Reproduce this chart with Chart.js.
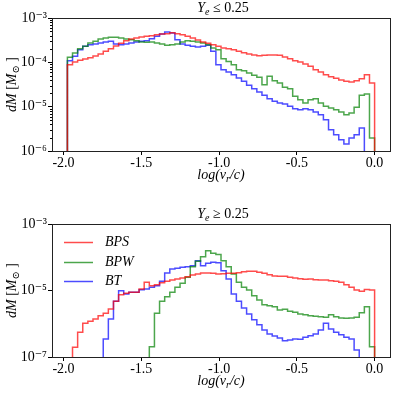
<!DOCTYPE html>
<html><head><meta charset="utf-8">
<script src="https://cdn.jsdelivr.net/npm/chart.js@4"></script>
<style>
html,body{margin:0;padding:0;background:#fff;}
#wrap{position:relative;width:396px;height:394px;background:#fff;}
canvas{position:absolute;left:0;}
#c1{top:0;} #c2{top:197px;}
</style></head><body>
<div id="wrap"><canvas id="c1" width="396" height="197"></canvas><canvas id="c2" width="396" height="197"></canvas></div>
<script>
// ---- data ----
const binStart = -1.975;
const binCount = 60;
const binWidth = 1.975 / binCount;
const xTicks = [-2.0, -1.5, -1.0, -0.5, 0.0];
const yTicksTop = [1e-6, 1e-5, 1e-4, 1e-3];
const yTicksBottom = [1e-7, 1e-5, 1e-3];
const seriesNames = ['BPS', 'BPW', 'BT'];
const seriesColors = ['rgba(255,0,0,0.7)', 'rgba(0,128,0,0.7)', 'rgba(0,0,255,0.7)'];
const titleTop = ['Y', 'e', ' \u2264 0.25'];
const titleBottom = ['Y', 'e', ' \u2265 0.25'];

const topBPS = [8.85e-5,1.02e-4,1.11e-4,1.19e-4,1.27e-4,1.39e-4,1.54e-4,1.77e-4,2.03e-4,2.33e-4,
  2.68e-4,3.08e-4,3.36e-4,3.54e-4,3.73e-4,3.86e-4,4.00e-4,4.21e-4,4.36e-4,4.43e-4,
  4.67e-4,4.43e-4,4.21e-4,3.86e-4,3.54e-4,3.19e-4,2.88e-4,2.68e-4,2.50e-4,2.30e-4,
  2.11e-4,2.03e-4,1.93e-4,1.77e-4,1.65e-4,1.54e-4,1.46e-4,1.41e-4,1.44e-4,1.46e-4,
  1.46e-4,1.44e-4,1.32e-4,1.21e-4,1.09e-4,1.02e-4,9.17e-5,8.13e-5,6.84e-5,6.05e-5,
  5.27e-5,4.75e-5,4.36e-5,4.00e-5,3.73e-5,3.60e-5,3.86e-5,4.28e-5,5.27e-5,3.42e-5];
const topBPW = [1.30e-4,1.63e-4,2.03e-4,2.30e-4,2.73e-4,2.98e-4,3.36e-4,3.54e-4,3.66e-4,3.66e-4,
  3.54e-4,3.36e-4,3.25e-4,3.08e-4,2.88e-4,2.83e-4,2.88e-4,2.73e-4,2.59e-4,2.42e-4,
  2.50e-4,2.59e-4,2.88e-4,3.08e-4,2.98e-4,2.88e-4,2.73e-4,2.50e-4,2.11e-4,1.93e-4,
  1.21e-4,1.05e-4,8.86e-5,6.84e-5,6.49e-5,5.74e-5,5.09e-5,4.59e-5,3.13e-5,4.83e-5,
  3.86e-5,3.42e-5,2.73e-5,2.55e-5,1.71e-5,1.44e-5,1.21e-5,1.44e-5,1.51e-5,1.21e-5,
  1.02e-5,9.33e-6,8.55e-6,7.59e-6,6.61e-6,7.20e-6,9.66e-6,1.80e-5,1.93e-5,1.96e-6];
const topBT = [1.09e-4,1.37e-4,1.93e-4,2.30e-4,2.50e-4,2.59e-4,2.73e-4,2.88e-4,2.98e-4,2.59e-4,
  2.50e-4,2.59e-4,2.73e-4,2.88e-4,2.98e-4,3.08e-4,3.42e-4,3.86e-4,4.36e-4,4.83e-4,
  4.59e-4,3.25e-4,2.59e-4,2.42e-4,2.30e-4,2.22e-4,2.30e-4,2.42e-4,1.77e-4,8.86e-5,
  6.84e-5,6.05e-5,5.27e-5,4.43e-5,3.73e-5,3.03e-5,2.55e-5,2.14e-5,1.80e-5,1.51e-5,
  1.32e-5,1.21e-5,1.15e-5,1.02e-5,9.01e-6,8.55e-6,9.01e-6,8.55e-6,7.59e-6,6.61e-6,
  5.09e-6,3.03e-6,2.34e-6,1.80e-6,1.44e-6,1.96e-6,2.34e-6,3.30e-6,0,0];

const botBPS = [0,1.95e-7,5.52e-7,1.03e-6,1.18e-6,1.39e-6,1.75e-6,2.06e-6,2.78e-6,4.72e-6,
  7.50e-6,8.22e-6,8.81e-6,8.81e-6,1.11e-5,1.76e-5,1.40e-5,1.50e-5,1.72e-5,1.89e-5,
  2.07e-5,2.22e-5,2.38e-5,2.61e-5,2.92e-5,3.13e-5,3.36e-5,3.36e-5,3.28e-5,3.13e-5,
  3.21e-5,3.28e-5,3.28e-5,3.44e-5,3.68e-5,3.77e-5,3.77e-5,3.52e-5,3.28e-5,2.99e-5,
  2.73e-5,2.67e-5,2.67e-5,2.49e-5,2.38e-5,2.27e-5,2.17e-5,2.22e-5,2.12e-5,2.07e-5,
  2.07e-5,1.98e-5,1.89e-5,1.76e-5,1.50e-5,1.25e-5,1.04e-5,9.44e-6,1.08e-5,1.04e-5];
const botBPW = [0,0,0,0,0,0,0,0,0,0,
  0,0,0,0,0,0,2.05e-7,2.06e-6,4.72e-6,6.53e-6,
  8.81e-6,1.25e-5,1.64e-5,2.49e-5,5.21e-5,7.54e-5,1.04e-4,1.58e-4,1.31e-4,1.20e-4,
  7.89e-5,5.21e-5,3.13e-5,1.76e-5,1.25e-5,1.04e-5,7.00e-6,5.18e-6,3.75e-6,3.50e-6,
  3.27e-6,2.59e-6,2.72e-6,2.36e-6,2.20e-6,1.96e-6,1.88e-6,1.75e-6,1.67e-6,1.63e-6,
  1.56e-6,1.88e-6,1.63e-6,1.49e-6,1.46e-6,1.49e-6,1.56e-6,2.15e-6,3.27e-6,2.05e-7];
const botBT = [0,0,0,0,0,0,0,3.48e-7,1.39e-6,4.72e-6,
  9.89e-6,7.85e-6,8.81e-6,8.81e-6,1.06e-5,1.11e-5,1.25e-5,1.40e-5,1.89e-5,3.36e-5,
  4.43e-5,4.65e-5,4.98e-5,5.21e-5,5.58e-5,7.89e-5,5.58e-5,6.56e-5,7.03e-5,6.87e-5,
  3.95e-5,2.22e-5,7.85e-6,4.72e-6,2.98e-6,1.96e-6,1.33e-6,9.38e-7,6.49e-7,4.92e-7,
  4.28e-7,3.73e-7,3.10e-7,3.24e-7,3.48e-7,3.40e-7,3.90e-7,4.38e-7,4.92e-7,6.49e-7,
  1.03e-6,6.95e-7,5.52e-7,4.70e-7,3.90e-7,3.48e-7,1.62e-7,0,0,0];

// ---- helpers ----
const FLOOR = 1e-12;
const SERIF = '"Liberation Serif", "DejaVu Serif", serif';
const SUP = {'-':'\u207B','0':'\u2070','1':'\u00B9','2':'\u00B2','3':'\u00B3','4':'\u2074','5':'\u2075','6':'\u2076','7':'\u2077','8':'\u2078','9':'\u2079'};

function toSteps(vals){
  const pts = [{x: binStart, y: FLOOR}];
  vals.forEach((v, i) => pts.push({x: binStart + i * binWidth, y: v > 0 ? v : FLOOR}));
  pts.push({x: binStart + vals.length * binWidth, y: FLOOR});
  return pts;
}

function drawRich(ctx, parts, x, y){
  let w = 0;
  parts.forEach(p => { ctx.font = p.f; w += ctx.measureText(p.t).width; });
  let cx = x - w / 2;
  ctx.textBaseline = 'alphabetic'; ctx.textAlign = 'left';
  parts.forEach(p => { ctx.font = p.f; ctx.fillText(p.t, cx, y + (p.dy || 0)); cx += ctx.measureText(p.t).width; });
}

const I14 = 'italic 14px ' + SERIF, R14 = '14px ' + SERIF, I10 = 'italic 10px ' + SERIF, R10 = '10px ' + SERIF;

const deco = {
  id: 'deco',
  afterDraw(chart, args, o){
    const ctx = chart.ctx, a = chart.chartArea, ys = chart.scales.y;
    ctx.save();
    ctx.fillStyle = '#000';
    if (o.minor){
      ctx.strokeStyle = '#000'; ctx.lineWidth = 1;
      for (let k = Math.floor(Math.log10(ys.min)); k < Math.log10(ys.max); k++){
        for (let m = 2; m <= 9; m++){
          const v = m * Math.pow(10, k);
          if (v <= ys.min || v >= ys.max) continue;
          const py = Math.round(ys.getPixelForValue(v)) + 0.5;
          ctx.beginPath(); ctx.moveTo(a.left - 2, py); ctx.lineTo(a.left, py); ctx.stroke();
        }
      }
    }
    ctx.strokeStyle = '#222'; ctx.lineWidth = 1;
    ctx.strokeRect(a.left + 0.5, a.top + 0.5, a.right - a.left, a.bottom - a.top);
    const t = o.title;
    drawRich(ctx, [{t: t[0], f: I14}, {t: t[1], f: I10, dy: 3}, {t: t[2], f: R14}], (a.left + a.right) / 2 + 2, a.top - 6);
    drawRich(ctx, [{t: 'log(v', f: I14}, {t: 'r', f: I10, dy: 3}, {t: '/c)', f: I14}], (a.left + a.right) / 2, a.bottom + 28);
    ctx.save();
    ctx.translate(16, (a.top + a.bottom) / 2);
    ctx.rotate(-Math.PI / 2);
    drawRich(ctx, [{t: 'dM', f: I14}, {t: ' [', f: R14}, {t: 'M', f: I14}, {t: '\u2299', f: R10, dy: 3}, {t: ' ]', f: R14}], 0, 0);
    ctx.restore();
    if (o.legend){
      chart.data.datasets.forEach((ds, i) => {
        const ly = Math.round(a.top + 18 + 19.5 * i) + 0.5;
        ctx.strokeStyle = ds.borderColor; ctx.lineWidth = 1.5;
        ctx.beginPath(); ctx.moveTo(a.left + 12, ly); ctx.lineTo(a.left + 41, ly); ctx.stroke();
        ctx.font = I14; ctx.textBaseline = 'middle'; ctx.textAlign = 'left'; ctx.fillStyle = '#000';
        ctx.fillText(ds.label, a.left + 53, ly);
      });
    }
    ctx.restore();
  }
};

function makeChart(id, series, yMin, yMax, yTicks, padTop, padBottom, title, legend, minor){
  return new Chart(document.getElementById(id), {
    type: 'line',
    data: {
      datasets: series.map((s, i) => ({
        label: seriesNames[i],
        data: toSteps(s),
        borderColor: seriesColors[i],
        borderWidth: 1.5,
        pointRadius: 0,
        fill: false,
        stepped: 'before',
        tension: 0
      }))
    },
    options: {
      responsive: false,
      animation: false,
      layout: {padding: {left: 0, right: 6, top: padTop, bottom: padBottom}},
      plugins: {legend: {display: false}, tooltip: {enabled: false}, deco: {title, legend, minor}},
      scales: {
        x: {
          type: 'linear', min: -2.074, max: 0.099,
          afterBuildTicks: sc => { sc.ticks = xTicks.map(v => ({value: v})); },
          afterFit: sc => { sc.height = 30; },
          ticks: {callback: v => v.toFixed(1), color: '#000', font: {family: SERIF, size: 14}, padding: 0, maxRotation: 0, autoSkip: false},
          grid: {drawOnChartArea: false, drawTicks: true, tickLength: 4, tickColor: '#000'},
          border: {display: false}
        },
        y: {
          type: 'logarithmic', min: yMin, max: yMax,
          afterBuildTicks: sc => { sc.ticks = yTicks.map(v => ({value: v})); },
          afterFit: sc => { sc.width = 52; },
          ticks: {callback: v => '10' + String(Math.round(Math.log10(v))).split('').map(c => SUP[c]).join(''), color: '#000', font: {family: SERIF, size: 14}, padding: 1, autoSkip: false},
          grid: {drawOnChartArea: false, drawTicks: true, tickLength: 4, tickColor: '#000'},
          border: {display: false}
        }
      }
    },
    plugins: [deco]
  });
}

makeChart('c1', [topBPS, topBPW, topBT], 1e-6, 1e-3, yTicksTop, 18, 16, titleTop, false, true);
makeChart('c2', [botBPS, botBPW, botBT], 1e-7, 1e-3, yTicksBottom, 27, 7, titleBottom, true, false);
</script>
</body></html>
